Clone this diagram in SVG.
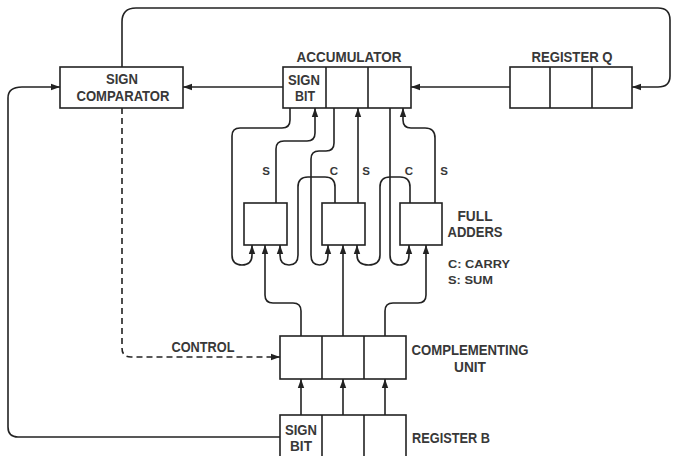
<svg xmlns="http://www.w3.org/2000/svg" width="674" height="456" viewBox="0 0 674 456">
<defs>
<marker id="ah" markerUnits="userSpaceOnUse" markerWidth="10" markerHeight="8" refX="9" refY="4" orient="auto">
<path d="M0,0.8 L9,4 L0,7.2 Z" fill="#222"/>
</marker>
<style>
.box{fill:#fff;stroke:#222;stroke-width:1.6}
.ln{fill:none;stroke:#222;stroke-width:1.6;marker-end:url(#ah)}
.pl{fill:none;stroke:#222;stroke-width:1.6}
.ds{fill:none;stroke:#222;stroke-width:1.6;stroke-dasharray:6 4;marker-end:url(#ah)}
text{font-family:"Liberation Sans",Arial,sans-serif;font-weight:bold;font-size:14px;fill:#383838;text-anchor:middle}
.sm{font-size:11.5px}
.st{text-anchor:start}
</style>
</defs>
<rect width="674" height="456" fill="#fff"/>
<g id="connectors">
<path class="ln" d="M122,67 V22 Q122,8 136,8 H658 Q670,8 670,20 V76 Q670,87 658,87 H632"/>
<path class="ln" d="M510,87 H411"/>
<path class="ln" d="M283,87 H183"/>
<path class="ln" d="M283,437 H18 Q8,437 8,427 V98 Q8,87 22,87 H60"/>
<path class="ds" d="M122,108 V348 Q122,357 131,357 H280"/>
<path class="ln" d="M301,415 V379"/>
<path class="ln" d="M343,415 V379"/>
<path class="ln" d="M385,415 V379"/>
<path class="ln" d="M301,336 V311 Q301,303 293,303 H273 Q265,303 265,295 V245"/>
<path class="ln" d="M343,336 V245"/>
<path class="ln" d="M385,336 V311 Q385,303 393,303 H418 Q426,303 426,295 V245"/>
<path class="ln" d="M290,108 V120 Q290,128 282,128 H240 Q232,128 232,136 V255 Q232,265 242,265 Q252,265 252,255 V245"/>
<path class="ln" d="M276,203 V149 Q276,141 284,141 H307 Q315,141 315,133 V108"/>
<path class="ln" d="M334,108 V143 Q334,151 326,151 H319 Q311,151 311,159 V255 Q311,265 319.5,265 Q328,265 328,255 V245"/>
<path class="ln" d="M335,203 V187 Q335,177 325,177 H308 Q298,177 298,187 V255 Q298,265 289,265 Q280,265 280,255 V245"/>
<path class="ln" d="M358,203 V108"/>
<path class="ln" d="M410,203 V187 Q410,177 400,177 H390 Q380,177 380,187 V255 Q380,265 368.5,265 Q357,265 357,255 V245"/>
<path class="ln" d="M390,108 V255 Q390,265 399.5,265 Q409,265 409,255 V245"/>
<path class="ln" d="M435,203 V138 Q435,128 425,128 H411 Q403,128 403,120 V108"/>
</g>
<g id="sign-comparator">
<rect class="box" x="60" y="67" width="123" height="41"/>
<text x="122" y="84" textLength="32" lengthAdjust="spacingAndGlyphs">SIGN</text>
<text x="123" y="101" textLength="93" lengthAdjust="spacingAndGlyphs">COMPARATOR</text>
</g>
<g id="accumulator">
<rect class="box" x="283" y="67" width="128" height="41"/>
<path class="pl" d="M326,67 V108 M368,67 V108"/>
<text x="349" y="62" textLength="105" lengthAdjust="spacingAndGlyphs">ACCUMULATOR</text>
<text x="304" y="85" textLength="32" lengthAdjust="spacingAndGlyphs">SIGN</text>
<text x="305" y="101" textLength="20" lengthAdjust="spacingAndGlyphs">BIT</text>
</g>
<g id="register-q">
<rect class="box" x="510" y="67" width="122" height="41"/>
<path class="pl" d="M550,67 V108 M592,67 V108"/>
<text x="572" y="62" textLength="81" lengthAdjust="spacingAndGlyphs">REGISTER Q</text>
</g>
<g id="full-adders">
<rect class="box" x="244" y="203" width="43" height="42"/>
<rect class="box" x="322" y="203" width="43" height="42"/>
<rect class="box" x="400" y="203" width="42" height="42"/>
<text class="sm" x="266" y="175">S</text>
<text class="sm" x="334" y="175">C</text>
<text class="sm" x="366" y="175">S</text>
<text class="sm" x="409" y="175">C</text>
<text class="sm" x="444" y="175">S</text>
<text x="475" y="221" textLength="35" lengthAdjust="spacingAndGlyphs">FULL</text>
<text x="475" y="237" textLength="55" lengthAdjust="spacingAndGlyphs">ADDERS</text>
<text class="sm st" x="448" y="268" textLength="62" lengthAdjust="spacingAndGlyphs">C:  CARRY</text>
<text class="sm st" x="448" y="284" textLength="45" lengthAdjust="spacingAndGlyphs">S:  SUM</text>
</g>
<g id="control-label">
<text x="203" y="352" textLength="63" lengthAdjust="spacingAndGlyphs">CONTROL</text>
</g>
<g id="complementing-unit">
<rect class="box" x="280" y="336" width="126" height="43"/>
<path class="pl" d="M322,336 V379 M364,336 V379"/>
<text x="470" y="355" textLength="117" lengthAdjust="spacingAndGlyphs">COMPLEMENTING</text>
<text x="470" y="372" textLength="32" lengthAdjust="spacingAndGlyphs">UNIT</text>
</g>
<g id="register-b">
<rect class="box" x="280" y="415" width="126" height="50"/>
<path class="pl" d="M322,415 V460 M364,415 V460"/>
<text x="301" y="435" textLength="32" lengthAdjust="spacingAndGlyphs">SIGN</text>
<text x="301" y="451" textLength="22" lengthAdjust="spacingAndGlyphs">BIT</text>
<text x="451" y="443" textLength="78" lengthAdjust="spacingAndGlyphs">REGISTER B</text>
</g>
</svg>
